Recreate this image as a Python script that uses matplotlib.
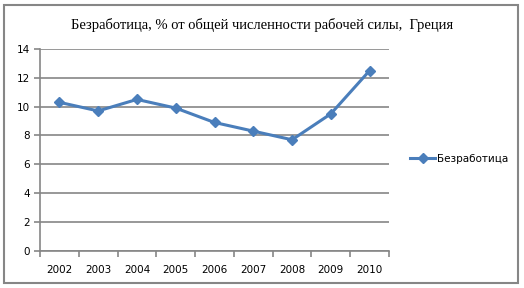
import numpy as np
import matplotlib
matplotlib.use("Agg")
import matplotlib.pyplot as plt
from matplotlib.patches import Rectangle

years = ["2002", "2003", "2004", "2005", "2006", "2007", "2008", "2009", "2010"]
unemployment = [10.3, 9.7, 10.5, 9.9, 8.9, 8.3, 7.7, 9.5, 12.5]
y_ticks = [0, 2, 4, 6, 8, 10, 12, 14]

TITLE = "Безработица, % от общей численности рабочей силы,  Греция"
SERIES = "Безработица"
LINE_COLOR = "#4a7ebb"
GRID_COLOR = "#868686"

fig = plt.figure(figsize=(5.24, 2.88), dpi=100)
fig.patches.append(Rectangle((4 / 524, 5 / 288), 514 / 524, 278 / 288, transform=fig.transFigure,
                             fill=False, edgecolor=GRID_COLOR, linewidth=1.5))

ax = fig.add_axes([40 / 524, (288 - 250.7) / 288, 349 / 524, 201.7 / 288])
x = np.arange(len(years))
ax.plot(x, unemployment, color=LINE_COLOR, linewidth=2.2, marker="D", markersize=5.5,
        label=SERIES)
ax.set_xlim(-0.5, len(years) - 0.5)
ax.set_ylim(0, 14)
ax.set_yticks(y_ticks)
ax.set_yticklabels([str(v) for v in y_ticks], fontsize=7.5)
ax.set_xticks(x)
ax.set_xticklabels(years, fontsize=7.5)
ax.set_xticks(np.arange(-0.5, len(years)), minor=True)
ax.tick_params(axis="x", which="major", length=0, pad=10)
ax.tick_params(axis="x", which="minor", length=4, color=GRID_COLOR, width=1.2)
ax.tick_params(axis="y", length=4, color=GRID_COLOR, width=1.2, pad=3)
ax.grid(axis="y", color=GRID_COLOR, linewidth=1.2)
ax.set_axisbelow(True)
for side in ["top", "right"]:
    ax.spines[side].set_visible(False)
for side in ["left", "bottom"]:
    ax.spines[side].set_color(GRID_COLOR)
    ax.spines[side].set_linewidth(1.2)

fig.text(262 / 524, 1 - 25 / 288, TITLE, ha="center", va="center",
         family="Liberation Serif", fontsize=10.5)

ax.legend(loc="center left", bbox_to_anchor=(406 / 524, 1 - 159 / 288), bbox_transform=fig.transFigure,
          frameon=False, fontsize=7.5, handlelength=2.4, handletextpad=0.2, borderaxespad=0)

fig.savefig("out.png", dpi=100)
